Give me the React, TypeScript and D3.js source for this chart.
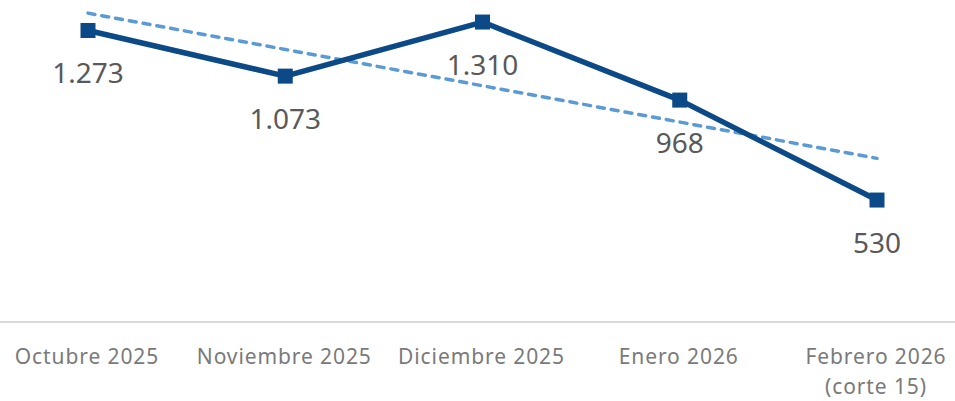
import React, { useEffect, useRef } from "react";
import * as d3 from "d3";

const categories = ["Octubre 2025", "Noviembre 2025", "Diciembre 2025", "Enero 2026", "Febrero 2026"];
const subLabels = ["", "", "", "", "(corte 15)"];
const values = [1273, 1073, 1310, 968, 530];

const App = () => {
  const svgRef = useRef<SVGSVGElement>(null);

  useEffect(() => {
    const svg = d3.select(svgRef.current);
    svg.selectAll("*").remove();

    const width = 955;

    const x = d3.scalePoint<number>().domain(d3.range(categories.length)).range([88, 877]);
    const y = d3.scaleLinear().domain([0, 1400]).range([321, 1.5]);

    // linear trend (least squares)
    const n = values.length;
    const mx = d3.mean(d3.range(n)) as number;
    const my = d3.mean(values) as number;
    const slope =
      d3.sum(values, (v, i) => (i - mx) * (v - my)) / d3.sum(d3.range(n), (i) => (i - mx) ** 2);
    const trend = d3.range(n).map((i) => my + slope * (i - mx));

    // axis line
    svg
      .append("line")
      .attr("x1", 0)
      .attr("x2", width)
      .attr("y1", y(0) + 1)
      .attr("y2", y(0) + 1)
      .attr("stroke", "#d9d9d9")
      .attr("stroke-width", 2);

    // category labels
    svg
      .selectAll(".cat")
      .data(categories)
      .join("text")
      .attr("class", "cat")
      .attr("x", (d, i) => (x(i) as number) - 1)
      .attr("y", 364)
      .attr("text-anchor", "middle")
      .attr("font-size", 21)
      .attr("letter-spacing", 0.9)
      .attr("fill", "#7a7a7a")
      .text((d) => d);

    svg
      .selectAll(".sub")
      .data(subLabels.filter((s) => s !== ""))
      .join("text")
      .attr("class", "sub")
      .attr("x", (d) => (x(subLabels.indexOf(d)) as number) - 1)
      .attr("y", 394)
      .attr("text-anchor", "middle")
      .attr("font-size", 21)
      .attr("letter-spacing", 0.9)
      .attr("fill", "#7a7a7a")
      .text((d) => d);

    const line = d3
      .line<number>()
      .x((d, i) => x(i) as number)
      .y((d) => y(d));

    // trend line
    svg
      .append("path")
      .datum(trend)
      .attr("d", line)
      .attr("fill", "none")
      .attr("stroke", "#5b9bd5")
      .attr("stroke-width", 3.5)
      .attr("stroke-dasharray", "7 7")
      .attr("stroke-linecap", "round");

    // main line
    svg
      .append("path")
      .datum(values)
      .attr("d", line)
      .attr("fill", "none")
      .attr("stroke", "#0b4a86")
      .attr("stroke-width", 5.5)
      .attr("stroke-linejoin", "round");

    const size = 15;
    svg
      .selectAll(".pt")
      .data(values)
      .join("rect")
      .attr("class", "pt")
      .attr("x", (d, i) => (x(i) as number) - size / 2)
      .attr("y", (d) => y(d) - size / 2)
      .attr("width", size)
      .attr("height", size)
      .attr("fill", "#0b4a86");

    svg
      .selectAll(".lbl")
      .data(values)
      .join("text")
      .attr("class", "lbl")
      .attr("x", (d, i) => x(i) as number)
      .attr("y", (d) => y(d) + 53)
      .attr("text-anchor", "middle")
      .attr("font-size", 28)
      .attr("fill", "#595959")
      .text((d) => d3.format(",")(d).replace(/,/g, "."));
  }, []);

  return (
    <svg
      ref={svgRef}
      width={955}
      height={401}
      style={{ position: "absolute", left: 0, top: 0, fontFamily: "'Noto Sans', sans-serif" }}
    ></svg>
  );
};

export default App;
